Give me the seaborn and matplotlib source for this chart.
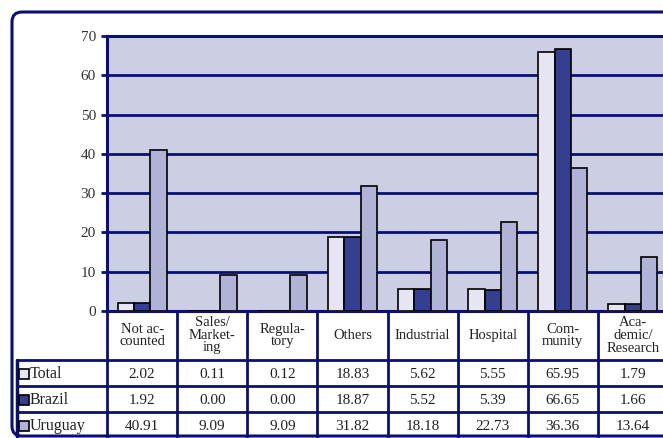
import matplotlib
matplotlib.use("Agg")
import matplotlib.pyplot as plt
import seaborn as sns
import pandas as pd
from matplotlib.patches import FancyBboxPatch

categories = ["Not accounted", "Sales/Marketing", "Regulatory", "Others",
              "Industrial", "Hospital", "Community", "Academic/Research"]
header_labels = ["Not ac-\ncounted", "Sales/\nMarket-\ning", "Regula-\ntory", "Others",
                 "Industrial", "Hospital", "Com-\nmunity", "Aca-\ndemic/\nResearch"]
series = ["Total", "Brazil", "Uruguay"]
total = [2.02, 0.11, 0.12, 18.83, 5.62, 5.55, 65.95, 1.79]
brazil = [1.92, 0.00, 0.00, 18.87, 5.52, 5.39, 66.65, 1.66]
uruguay = [40.91, 9.09, 9.09, 31.82, 18.18, 22.73, 36.36, 13.64]
yticks = [0, 10, 20, 30, 40, 50, 60, 70]
colors = ["#E6E6F2", "#343F8F", "#B0B3D6"]
navy = "#0A0F78"
bg = "#CCCEE4"

sns.set_theme(style="white")
plt.rcParams["font.family"] = ["Liberation Serif", "DejaVu Serif"]

values = {"Total": total, "Brazil": brazil, "Uruguay": uruguay}
df = pd.DataFrame([(c, s, values[s][i]) for s in series for i, c in enumerate(categories)],
                  columns=["category", "series", "value"])

W, H = 663, 438
fig = plt.figure(figsize=(W / 100, H / 100), dpi=100)

# background frame axes
bax = fig.add_axes([0, 0, 1, 1], zorder=-5)
bax.set_xlim(0, W)
bax.set_ylim(H, 0)
bax.axis("off")
bax.add_patch(FancyBboxPatch((12, 12), 720, 424,
                             boxstyle="round,pad=0,rounding_size=10",
                             edgecolor=navy, facecolor="none", lw=2.2, clip_on=False))

# main chart
left_px, right_px = 107, 668
ax = fig.add_axes([left_px / W, 127 / H, (right_px - left_px) / W, 275 / H])
sns.barplot(data=df, x="category", y="value", hue="series", order=categories,
            hue_order=series, palette=colors, saturation=1, width=0.7,
            edgecolor="black", linewidth=1.2, legend=False, ax=ax, zorder=3)
ax.set_xlim(-0.5, 7.5)
ax.set_ylim(0, 70)
ax.set_facecolor(bg)
ax.set_yticks(yticks)
ax.set_yticklabels([str(t) for t in yticks], fontsize=11, color="#333333")
ax.set_xticks([])
ax.set_xlabel("")
ax.set_ylabel("")
ax.yaxis.grid(True, color=navy, lw=2, zorder=1)
ax.set_axisbelow(True)
for side in ["left", "bottom", "top"]:
    ax.spines[side].set_color(navy)
    ax.spines[side].set_linewidth(2.2)
ax.spines["right"].set_visible(False)
ax.tick_params(axis="y", length=4, width=2, color=navy, pad=4, left=True)

# data table
cat_w = (right_px - left_px) / len(categories)
def px2x(px):
    return (px - left_px) / cat_w - 0.5

tax = fig.add_axes([left_px / W, 0, (right_px - left_px) / W, 127 / H])
tax.set_xlim(-0.5, 7.5)
tax.set_ylim(127, 0)
tax.axis("off")

row_edges = [0, 49, 75, 101, 127]
for k in range(len(categories) + 1):
    tax.plot([k - 0.5, k - 0.5], [0, 127], color=navy, lw=2, clip_on=False)
for yv in row_edges[1:4]:
    tax.plot([px2x(17), 7.5], [yv, yv], color=navy, lw=2, clip_on=False)
tax.plot([px2x(17), px2x(17)], [49, 127], color=navy, lw=2.5, clip_on=False)

for i, lab in enumerate(header_labels):
    tax.text(i, 24.5, lab, ha="center", va="center", fontsize=10.5,
             color="#222222", linespacing=0.95)

rows = [total, brazil, uruguay]
for r, (name, vals) in enumerate(zip(series, rows)):
    yc = (row_edges[r + 1] + row_edges[r + 2]) / 2
    for i, v in enumerate(vals):
        tax.text(i, yc + 1, f"{v:.2f}", ha="center", va="center", fontsize=11,
                 color="#222222")
    tax.plot([px2x(24)], [yc + 1], marker="s", ms=7, mfc=colors[r], mec="black",
             mew=1.2, clip_on=False, ls="none")
    tax.text(px2x(29.5), yc + 1, name, ha="left", va="center", fontsize=11.5,
             color="#222222")

fig.savefig("out.png", dpi=100)
